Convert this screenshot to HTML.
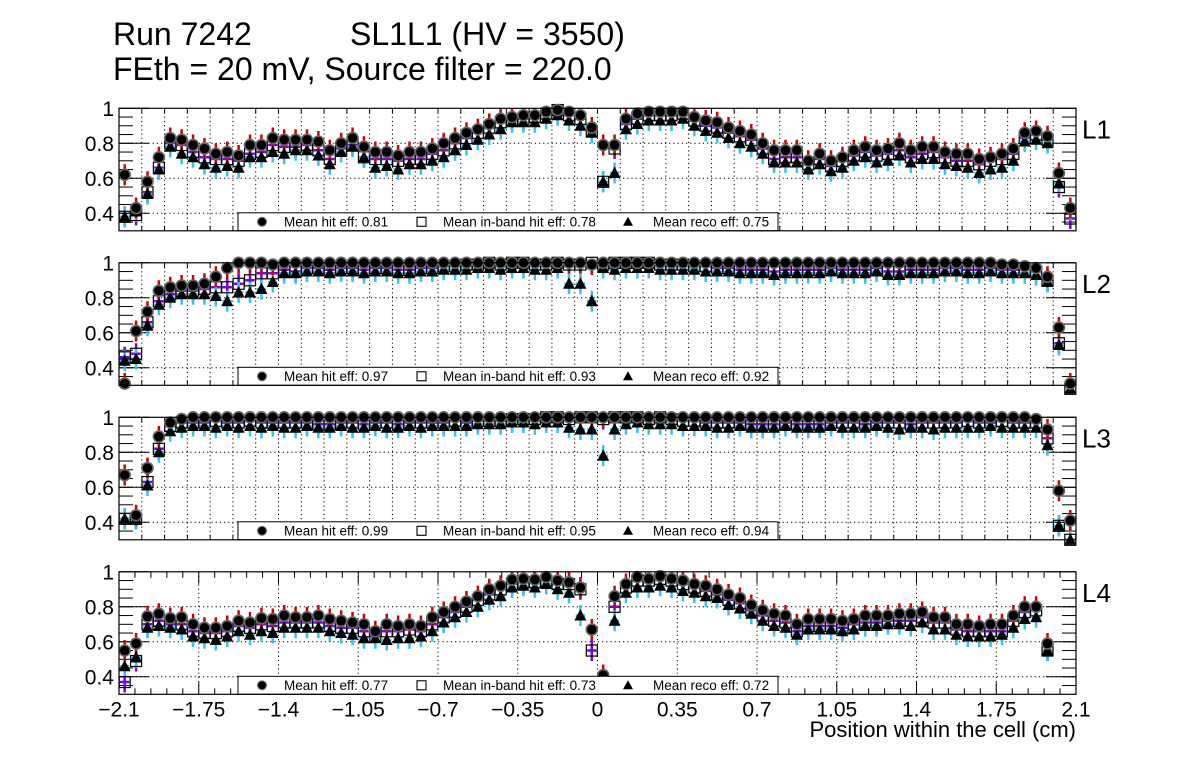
<!DOCTYPE html>
<html><head><meta charset="utf-8">
<style>
html,body{margin:0;padding:0;background:#fff;}
svg{display:block;font-family:"Liberation Sans",Arial,sans-serif;}
</style></head>
<body>
<svg id="chart" width="1196" height="772" viewBox="0 0 1196 772" xmlns="http://www.w3.org/2000/svg">
<rect width="1196" height="772" fill="#fff"/>
<text x="113" y="45" font-size="32">Run 7242</text>
<text x="350" y="45" font-size="32">SL1L1 (HV = 3550)</text>
<text x="113" y="80" font-size="32">FEth = 20 mV, Source filter = 220.0</text>
<text x="1076" y="737" font-size="22" text-anchor="end">Position within the cell (cm)</text>
<g id="panels"></g>
</svg>
<script>
const layers = ["L1","L2","L3","L4"];
const yTicks = [0.4,0.6,0.8,1];
const yTickLabels = ["0.4","0.6","0.8","1"];
const xTicks = [-2.1,-1.75,-1.4,-1.05,-0.7,-0.35,0,0.35,0.7,1.05,1.4,1.75,2.1];
const xTickLabels = ["\u22122.1","\u22121.75","\u22121.4","\u22121.05","\u22120.7","\u22120.35","0","0.35","0.7","1.05","1.4","1.75","2.1"];
const meanHit = ["0.81","0.97","0.99","0.77"];
const meanInband = ["0.78","0.93","0.95","0.73"];
const meanReco = ["0.75","0.92","0.94","0.72"];
const binStart = -2.1, binWidth = 0.05;
const errHalf = 0.06;

const hitL1 = [.62,.43,.58,.72,.83,.82,.79,.77,.74,.75,.73,.79,.79,.83,.82,.82,.82,.81,.76,.80,.83,.78,.75,.75,.73,.75,.75,.77,.80,.83,.86,.88,.91,.94,.95,.96,.96,.98,.99,.98,.96,.89,.79,.79,.94,.97,.98,.98,.98,.98,.95,.93,.92,.89,.87,.85,.80,.76,.76,.76,.70,.74,.70,.72,.76,.78,.76,.77,.80,.76,.78,.78,.75,.74,.74,.71,.72,.74,.77,.86,.87,.84,.63,.43];
const inbandL1 = [.38,.39,.52,.66,.80,.79,.75,.72,.71,.71,.70,.74,.75,.79,.78,.78,.79,.76,.71,.77,.79,.72,.71,.71,.70,.71,.71,.74,.76,.80,.83,.86,.89,.92,.93,.94,.95,.97,.99,.96,.94,.87,.58,.77,.91,.94,.96,.96,.96,.97,.93,.90,.89,.86,.84,.82,.77,.71,.72,.72,.68,.71,.67,.70,.73,.75,.73,.74,.76,.72,.74,.75,.72,.70,.70,.68,.70,.71,.74,.83,.85,.82,.55,.37];
const recoL1 = [.38,.41,.51,.65,.78,.74,.72,.68,.66,.67,.66,.72,.72,.75,.74,.76,.76,.73,.68,.75,.78,.72,.66,.67,.65,.68,.68,.70,.72,.76,.79,.82,.85,.88,.92,.92,.92,.94,.96,.93,.90,.86,.58,.63,.88,.91,.93,.93,.93,.94,.90,.87,.86,.83,.80,.78,.74,.69,.69,.69,.65,.68,.64,.66,.70,.72,.69,.70,.73,.69,.71,.71,.68,.67,.66,.63,.65,.66,.70,.81,.82,.80,.57,.42];

const hitL2 = [.31,.61,.72,.84,.86,.87,.87,.88,.92,.97,1,1,1,.99,1,1,1,1,1,1,1,1,1,1,1,1,1,1,1,1,1,1,1,1,1,1,1,1,1,1,1,.99,1,1,1,1,1,1,1,1,1,1,1,1,1,1,1,1,1,1,1,1,1,1,1,1,1,1,1,1,1,1,1,1,1,1,1,.99,.99,.98,.97,.92,.63,.31];
const inbandL2 = [.46,.48,.66,.78,.82,.84,.84,.85,.86,.86,.88,.90,.94,.94,.96,.95,.97,.97,.96,.97,.97,.96,.97,.97,.96,.96,.97,.97,.98,.98,.99,.99,1,.99,1,1,.99,.99,1,.99,.99,1,.99,1,1,1,1,.99,.99,.99,.98,.98,.97,.97,.96,.96,.96,.95,.96,.96,.96,.96,.97,.96,.96,.96,.97,.95,.95,.96,.96,.96,.97,.97,.96,.96,.97,.96,.96,.96,.95,.90,.54,.28];
const recoL2 = [.44,.45,.64,.76,.80,.82,.82,.82,.81,.78,.83,.83,.85,.89,.94,.94,.95,.95,.94,.95,.95,.94,.95,.95,.94,.94,.95,.95,.96,.96,.96,.97,.97,.96,.97,.97,.96,.96,.97,.88,.88,.78,.97,.96,.97,.97,.97,.96,.96,.96,.96,.95,.95,.95,.94,.94,.94,.93,.94,.94,.94,.94,.95,.94,.94,.94,.95,.93,.93,.94,.94,.94,.95,.95,.94,.94,.95,.94,.94,.94,.93,.89,.53,.28];

const hitL3 = [.67,.44,.71,.89,.97,.99,1,1,1,1,1,1,1,1,1,1,1,1,1,1,1,1,1,1,1,1,1,1,1,1,1,1,1,1,1,1,1,1,1,1,1,1,1,1,1,1,1,1,1,1,1,1,1,1,1,1,1,1,1,1,1,1,1,1,1,1,1,1,1,1,1,1,1,1,1,1,1,1,1,1,.99,.93,.58,.41];
const inbandL3 = [.42,.42,.63,.82,.95,.97,.97,.97,.98,.97,.97,.98,.97,.97,.97,.97,.97,.96,.96,.97,.97,.96,.97,.97,.96,.97,.97,.97,.97,.98,.97,.98,.98,.98,.99,.99,.99,1,1,.99,1,1,.99,1,1,1,.99,1,.99,.98,.98,.97,.97,.97,.97,.96,.96,.96,.97,.96,.96,.96,.97,.97,.97,.96,.97,.97,.97,.96,.97,.97,.97,.97,.98,.97,.97,.98,.97,.97,.97,.88,.38,.30];
const recoL3 = [.42,.42,.61,.80,.92,.94,.95,.95,.94,.95,.94,.95,.94,.95,.94,.94,.95,.94,.94,.95,.94,.94,.95,.94,.94,.95,.94,.95,.95,.95,.95,.96,.96,.96,.97,.97,.96,.97,.97,.94,.93,.93,.78,.93,.96,.97,.96,.96,.96,.95,.95,.95,.94,.94,.95,.94,.94,.94,.95,.94,.94,.94,.95,.94,.94,.94,.95,.94,.93,.94,.94,.93,.94,.94,.94,.94,.95,.94,.94,.94,.94,.84,.38,.30];

const hitL4 = [.55,.59,.745,.76,.735,.74,.70,.68,.68,.69,.72,.71,.735,.73,.75,.74,.74,.75,.73,.72,.71,.70,.66,.70,.69,.70,.69,.74,.77,.80,.83,.86,.90,.92,.955,.96,.955,.97,.95,.94,.91,.67,.41,.86,.93,.97,.96,.975,.96,.95,.93,.92,.90,.87,.85,.81,.78,.76,.75,.70,.73,.73,.73,.72,.73,.75,.75,.75,.76,.76,.77,.74,.74,.70,.70,.69,.70,.70,.75,.80,.80,.59,null,null];
const inbandL4 = [.37,.49,.70,.72,.70,.70,.66,.65,.65,.66,.69,.68,.70,.69,.71,.71,.71,.71,.69,.68,.68,.66,.63,.66,.66,.67,.66,.70,.74,.77,.80,.84,.87,.90,.93,.94,.94,.95,.93,.93,.90,.55,null,.80,.91,.95,.95,.96,.95,.93,.91,.89,.87,.84,.82,.78,.75,.72,.71,.66,.69,.69,.69,.68,.70,.71,.71,.72,.72,.72,.74,.71,.71,.67,.66,.66,.66,.66,.72,.77,.78,.55,null,null];
const recoL4 = [.46,.51,.68,.69,.68,.67,.63,.62,.61,.63,.66,.64,.66,.65,.68,.68,.68,.68,.66,.65,.64,.62,.62,.61,.62,.62,.63,.66,.71,.74,.77,.80,.84,.86,.91,.92,.91,.93,.90,.88,.75,null,null,.72,.88,.91,.91,.92,.91,.89,.88,.86,.85,.81,.79,.76,.72,.69,.68,.64,.67,.67,.67,.66,.67,.69,.69,.70,.70,.69,.71,.67,.67,.64,.63,.63,.63,.64,.68,.73,.74,.55,null,null];

const hitAll = [hitL1,hitL2,hitL3,hitL4];
const inbandAll = [inbandL1,inbandL2,inbandL3,inbandL4];
const recoAll = [recoL1,recoL2,recoL3,recoL4];

const NS = "http://www.w3.org/2000/svg";
const X0 = 119, X1 = 1076, XMIN = -2.1, XMAX = 2.1;
const panelTops = [108.3, 262.8, 417.3, 571.8];
const PH = 122.5, YPX = 175;
function xs(v){ return X0 + (v - XMIN) / (XMAX - XMIN) * (X1 - X0); }
function ysFor(p){ return v => panelTops[p] + (1 - v) * YPX; }
function mk(tag, attrs, parent){
  const e = document.createElementNS(NS, tag);
  for (const k in attrs) e.setAttribute(k, attrs[k]);
  parent.appendChild(e);
  return e;
}
const root = document.getElementById("panels");
const defs = mk("defs", {}, root);

for (let p = 0; p < 4; p++) {
  const T = panelTops[p], ys = ysFor(p), B = T + PH;
  const g = mk("g", {}, root);
  
  
  const cp = mk("clipPath", {id: "clip" + p}, defs);
  mk("rect", {x: X0, y: T, width: X1 - X0, height: PH}, cp);

  const grid = mk("g", {stroke: "#000", "stroke-width": 1, "stroke-dasharray": "1.2,3"}, g);
  
  
  if (p < 3) {
    for (let k = 1; k < 42; k++) { const x = xs(-2.1 + k * 0.1); mk("line", {x1: x, x2: x, y1: T, y2: B}, grid); }
  } else {
    for (let k = 1; k < xTicks.length - 1; k++) { const x = xs(xTicks[k]); mk("line", {x1: x, x2: x, y1: T, y2: B}, grid); }
  }
  for (let k = 0; k < 3; k++) { const y = ys(yTicks[k]); mk("line", {x1: X0, x2: X1, y1: y, y2: y}, grid); }

  const tk = mk("g", {stroke: "#000", "stroke-width": 1}, g);
  
  
  for (let k = 0; k < yTicks.length; k++) {
    const y = ys(yTicks[k]);
    mk("line", {x1: X0, x2: X0 + 30, y1: y, y2: y}, tk);
    mk("line", {x1: X1, x2: X1 - 30, y1: y, y2: y}, tk);
  }
  for (let v = 0.35; v < 1; v += 0.05) {
    const y = ys(v);
    mk("line", {x1: X0, x2: X0 + 14, y1: y, y2: y}, tk);
    mk("line", {x1: X1, x2: X1 - 14, y1: y, y2: y}, tk);
  }
  if (p < 3) {
    for (let k = 1; k < 42; k++) { const x = xs(-2.1 + k * 0.1); mk("line", {x1: x, x2: x, y1: B, y2: B - 5}, tk); mk("line", {x1: x, x2: x, y1: T, y2: T + 5}, tk); }
  } else {
    for (let k = 1; k < 60; k++) { const x = xs(-2.1 + k * 0.07); const L = (k % 5 === 0) ? 12 : 6; mk("line", {x1: x, x2: x, y1: B, y2: B - L}, tk); mk("line", {x1: x, x2: x, y1: T, y2: T + L}, tk); }
  }

  for (let k = 0; k < yTicks.length; k++) {
    const t = mk("text", {x: 114, y: ys(yTicks[k]) + 7.5, "font-size": 21, "text-anchor": "end"}, g);
    t.textContent = yTickLabels[k];
    
    
  }
  const lab = mk("text", {x: 1082, y: T + 30, "font-size": 26}, g);
  lab.textContent = layers[p];
  
  

  const series = [[inbandAll[p], "#7a00e0"], [recoAll[p], "#33c4f2"], [hitAll[p], "#d40000"]];
  const eg = mk("g", {"clip-path": "url(#clip" + p + ")", "stroke-width": 2.5}, g);
  
  
  for (const [arr, col] of series) {
    for (let i = 0; i < arr.length; i++) {
      const v = arr[i]; if (v === null) continue;
      const cx = xs(binStart + binWidth * (i + 0.5)), cy = ys(v);
      mk("line", {x1: cx, x2: cx, y1: ys(v + errHalf), y2: ys(v - errHalf), stroke: col}, eg);
      mk("line", {x1: xs(binStart + binWidth * i) + 1, x2: xs(binStart + binWidth * (i + 1)) - 1, y1: cy, y2: cy, stroke: col}, eg);
    }
  }
  const mg = mk("g", {}, g);
  
  
  const inb = inbandAll[p], rec = recoAll[p], hit = hitAll[p];
  for (let i = 0; i < inb.length; i++) {
    const cx = xs(binStart + binWidth * (i + 0.5));
    if (inb[i] !== null && inb[i] > 0.27) {
      const r = mk("rect", {x: cx - 5.5, y: ys(inb[i]) - 5.5, width: 11, height: 11, fill: "none", stroke: "#000", "stroke-width": 1.2}, mg);
      
      
    }
    if (rec[i] !== null && rec[i] > 0.27) {
      const y = ys(rec[i]);
      const t = mk("polygon", {points: (cx - 6) + "," + (y + 5) + " " + (cx + 6) + "," + (y + 5) + " " + cx + "," + (y - 6.5), fill: "#000"}, mg);
      
      
    }
    if (hit[i] !== null && hit[i] > 0.27) {
      const c = mk("circle", {cx: cx, cy: ys(hit[i]), r: 5.5, fill: "#000", stroke: "#666", "stroke-width": 1.6}, mg);
      
      
    }
  }

  const lg = mk("g", {}, g);
  
  
  mk("rect", {x: 238, y: B - 18, width: 540, height: 18, fill: "#fff", stroke: "#000", "stroke-width": 1}, lg);
  mk("circle", {cx: 262, cy: B - 9, r: 4.5, fill: "#000", stroke: "#777", "stroke-width": 1.2}, lg);
  mk("rect", {x: 417, y: B - 13.5, width: 9, height: 9, fill: "none", stroke: "#000", "stroke-width": 1.1}, lg);
  mk("polygon", {points: "623," + (B - 5) + " 633," + (B - 5) + " 628," + (B - 14), fill: "#000"}, lg);
  const l1 = mk("text", {x: 284, y: B - 4.5, "font-size": 13.5}, lg); l1.textContent = "Mean hit  eff: " + meanHit[p];
  
  
  const l2 = mk("text", {x: 443, y: B - 4.5, "font-size": 13.5}, lg); l2.textContent = "Mean in-band hit eff: " + meanInband[p];
  
  
  const l3 = mk("text", {x: 653, y: B - 4.5, "font-size": 13.5}, lg); l3.textContent = "Mean reco eff: " + meanReco[p];
  
  

  const fr = mk("rect", {x: X0, y: T, width: X1 - X0, height: PH, fill: "none", stroke: "#000", "stroke-width": 1.2}, g);
  
  

  if (p === 3) {
    for (let k = 0; k < xTicks.length; k++) {
      const t = mk("text", {x: xs(xTicks[k]), y: B + 22, "font-size": 21, "text-anchor": "middle"}, g);
      t.textContent = xTickLabels[k];
      
      
    }
  }
}
</script>
</body></html>
